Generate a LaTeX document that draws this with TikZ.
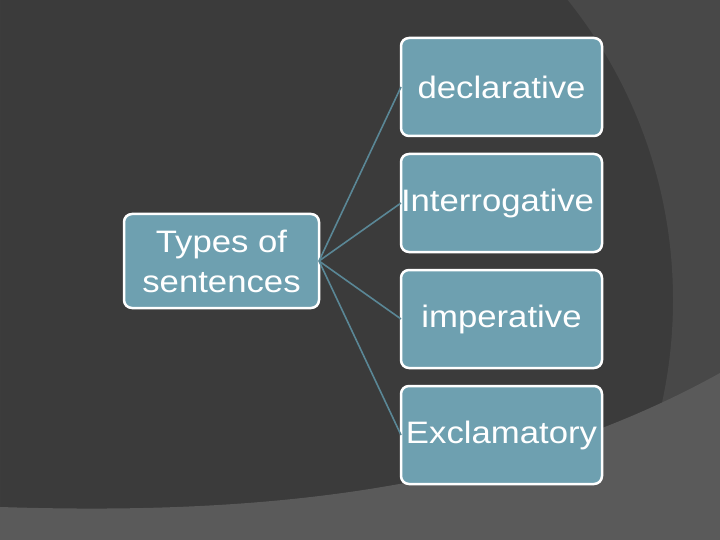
\documentclass[tikz,border=0pt]{standalone}
\usepackage{fontspec}
\setmainfont{Liberation Sans}
\usetikzlibrary{positioning}
\definecolor{slidedark}{HTML}{3B3B3B}
\definecolor{slidearc}{HTML}{484848}
\definecolor{slideband}{HTML}{5A5A5A}
\definecolor{boxfill}{HTML}{6EA0B0}
\definecolor{linkcol}{HTML}{5A8796}
\newcommand{\wide}[1]{\scalebox{1.12}[1]{#1}}
\begin{document}
\begin{tikzpicture}[x=1pt,y=-1pt]
        \tikzset{sentbox/.style={draw=white,line width=2.5pt,fill=boxfill,rounded corners=8pt,outer sep=0pt,
                 text=white,inner sep=0pt,align=center,font=\fontsize{31}{40}\selectfont},
                 link/.style={draw=linkcol,line width=1.6pt}};
        \useasboundingbox (0,0) rectangle (720,540);
        % background of the slide
        \fill[slidedark] (0,0) rectangle (720,540);
        \begin{scope}
            \clip (0,0) rectangle (720,540);
            \fill[slidearc,even odd rule] (0,0) rectangle (720,540) (193,300) circle[radius=480];
        \end{scope}
        \fill[slideband] (0,507) .. controls (250,515) and (500,495) .. (720,373) -- (720,540) -- (0,540) -- cycle;
        % boxes
        \node[sentbox,minimum width=195pt,minimum height=94pt] (types) at (221.5,261) {\wide{Types of}\\\wide{sentences}};
        \node[sentbox,minimum width=201pt,minimum height=98pt] (decl) at (501.5,87) {\wide{declarative}};
        \node[sentbox,minimum width=201pt,minimum height=98pt,text width=201pt,align=left,below=18pt of decl] (interr) {\wide{Interrogative}};
        \node[sentbox,minimum width=201pt,minimum height=98pt,below=18pt of interr] (imper) {\wide{imperative}};
        \node[sentbox,minimum width=201pt,minimum height=98pt,below=18pt of imper] (excl) {\wide{Exclamatory}};
        % connectors
        \foreach \n in {decl,interr,imper,excl}
            \draw[link] (types.east) -- (\n.west);
    \end{tikzpicture}
\end{document}
